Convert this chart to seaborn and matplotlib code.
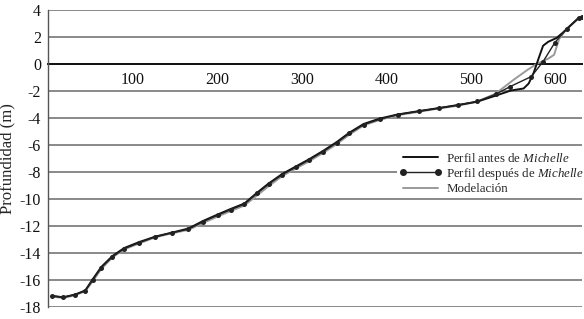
import matplotlib
matplotlib.use('Agg')
import matplotlib.pyplot as plt
import seaborn as sns
import pandas as pd

# profile after Michelle (dotted series)
x_despues = [5, 18, 32, 44, 53, 63, 76, 90, 108, 127, 147, 166, 183, 201, 216,
             232, 247, 261, 277, 293, 309, 325, 341, 356, 373, 392, 413, 438,
             462, 484, 507, 529, 546, 571, 585, 599, 613, 627, 631]
y_despues = [-17.2, -17.3, -17.1, -16.8, -16.0, -15.1, -14.3, -13.7, -13.25,
             -12.8, -12.5, -12.25, -11.7, -11.2, -10.8, -10.4, -9.6, -8.9,
             -8.2, -7.65, -7.1, -6.5, -5.85, -5.15, -4.5, -4.1, -3.75, -3.5,
             -3.27, -3.05, -2.78, -2.25, -1.68, -0.94, 0.17, 1.59, 2.62, 3.43,
             3.5]

# profile before Michelle
x_antes = [5, 18, 32, 44, 53, 63, 76, 90, 108, 127, 147, 166, 183, 201, 216,
           232, 247, 261, 277, 293, 309, 325, 341, 356, 373, 392, 413, 438,
           462, 484, 507, 529, 547, 562, 568, 574, 580, 585, 591, 601, 608,
           618, 627, 631]
y_antes = [-17.2, -17.3, -17.1, -16.8, -15.95, -15.05, -14.25, -13.65, -13.2,
           -12.8, -12.5, -12.2, -11.65, -11.15, -10.75, -10.35, -9.55, -8.85,
           -8.15, -7.6, -7.05, -6.45, -5.8, -5.1, -4.45, -4.05, -3.75, -3.5,
           -3.27, -3.05, -2.8, -2.35, -1.97, -1.82, -1.45, -0.64, 0.46, 1.35,
           1.64, 1.93, 2.3, 2.88, 3.4, 3.5]

# model
x_modelo = [5, 18, 32, 44, 53, 63, 76, 90, 108, 127, 147, 166, 183, 201, 216,
            232, 247, 261, 277, 293, 309, 325, 341, 356, 373, 392, 413, 438,
            462, 484, 507, 529, 549, 567, 578, 591, 598, 604, 613, 627, 631]
y_modelo = [-17.25, -17.35, -17.15, -16.85, -16.1, -15.2, -14.35, -13.75, -13.3,
            -12.85, -12.55, -12.3, -11.8, -11.3, -10.9, -10.5, -9.75, -9.05,
            -8.3, -7.75, -7.2, -6.6, -5.95, -5.25, -4.55, -4.15, -3.8, -3.55,
            -3.3, -3.1, -2.8, -2.2, -1.23, -0.42, 0.02, 0.39, 0.68, 1.85, 2.6,
            3.4, 3.5]

y_ticks = list(range(-18, 5, 2))
x_ticks = [100, 200, 300, 400, 500, 600]

sns.set_style('white')
plt.rcParams['font.family'] = ['Liberation Serif', 'DejaVu Serif']
plt.rcParams['axes.unicode_minus'] = False
plt.rcParams['mathtext.fontset'] = 'custom'
plt.rcParams['mathtext.rm'] = 'Liberation Serif'
plt.rcParams['mathtext.it'] = 'Liberation Serif:italic'

fig = plt.figure(figsize=(5.84, 3.19), dpi=100)
ax = fig.add_axes([48 / 584, 1 - 306.7 / 319, 534 / 584, (306.7 - 10) / 319])

df_a = pd.DataFrame({'x': x_antes, 'y': y_antes})
df_d = pd.DataFrame({'x': x_despues, 'y': y_despues})
df_m = pd.DataFrame({'x': x_modelo, 'y': y_modelo})

sns.lineplot(data=df_a, x='x', y='y', sort=False, estimator=None, ax=ax,
             color='#111111', lw=1.4, label=r'Perfil antes de $\mathit{Michelle}$',
             zorder=3)
sns.lineplot(data=df_d, x='x', y='y', sort=False, estimator=None, ax=ax,
             color='#222222', lw=1.0, marker='o', markersize=3.6,
             markeredgewidth=0, label=r'Perfil después de $\mathit{Michelle}$',
             zorder=4)
sns.lineplot(data=df_m, x='x', y='y', sort=False, estimator=None, ax=ax,
             color='#9a9a9a', lw=1.4, label='Modelación', zorder=2)

ax.set_xlim(0, 631)
ax.set_ylim(-18, 4)
ax.set_yticks(y_ticks)
ax.set_xticks(x_ticks)
ax.yaxis.grid(True, color='#6a6a6a', lw=1.1)
ax.xaxis.grid(False)
ax.set_axisbelow(True)

ax.spines['top'].set_visible(False)
ax.spines['right'].set_visible(False)
ax.spines['bottom'].set_position(('data', 0))
ax.spines['bottom'].set_color('#111111')
ax.spines['bottom'].set_linewidth(1.4)
ax.spines['bottom'].set_zorder(1)
ax.spines['left'].set_color('#555555')
ax.spines['left'].set_linewidth(1.0)

ax.tick_params(axis='both', labelsize=11.5, colors='#111111', length=3,
               width=0.8, direction='out', pad=2)
ax.tick_params(axis='x', pad=3)

ax.set_xlabel('')
ax.set_ylabel('Profundidad (m)', fontsize=12, labelpad=3)

leg = ax.legend(loc='upper left', bbox_to_anchor=(397 / 584, 1 - 149 / 319),
                bbox_transform=fig.transFigure, fontsize=9.3, frameon=True,
                framealpha=1, edgecolor='none', facecolor='white',
                borderaxespad=0, borderpad=0.2, labelspacing=0.1,
                handlelength=3.3, handletextpad=0.3, fancybox=False,
                numpoints=2, markerscale=1.4)

fig.savefig('out.png', dpi=100)
